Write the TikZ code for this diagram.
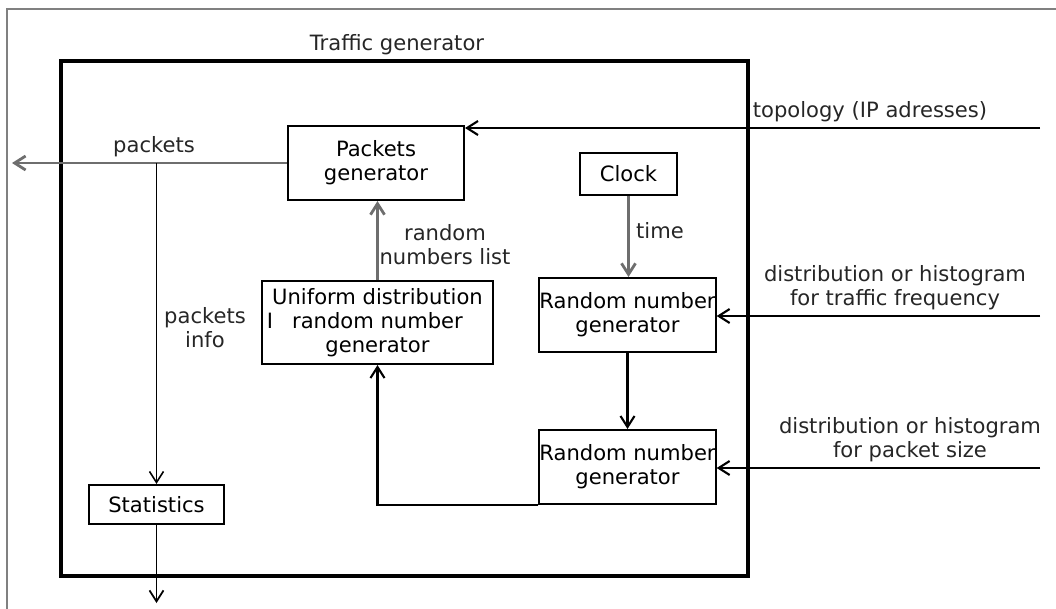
\documentclass[tikz,border=0pt]{standalone}
\usepackage{fontspec}
\setmainfont{DejaVu Sans}
\usetikzlibrary{arrows.meta}

\definecolor{flowgrey}{HTML}{6E6E6E}
\tikzset{
  block/.style={draw, line width=1.2pt, inner sep=0pt, align=center},
  link/.style={-{Straight Barb[length=2.2mm,width=2.8mm]}, line width=1.2pt},
  greylink/.style={link, draw=flowgrey, line width=1.6pt},
  lbl/.style={inner sep=0pt, align=center, text=black!85},
}

\begin{document}
\begin{tikzpicture}[x=0.02cm, y=-0.02cm, font=\fontsize{12}{13.6}\selectfont]
  \useasboundingbox (0,0) rectangle (1056,609);
  \draw[gray, line width=0.6pt] (7,615) -- (7,9) -- (1062,9);

  % traffic generator
  \draw[line width=1.9pt] (61,61) rectangle (748,576);
  \node[lbl] (title) at (397,45) {Traffic generator};

  \node[block, minimum width=3.52cm, minimum height=1.48cm] (pgen) at (376,163) {Packets\\generator};
  \node[block, minimum width=1.94cm, minimum height=0.84cm] (clock) at (628.5,174) {Clock};
  \node[block, minimum width=4.62cm, minimum height=1.66cm] (unif) at (377.5,322.5)
    {Uniform distribution\\\llap{I\hspace{0.9em}}random number\\generator};
  \node[block, minimum width=3.5cm, minimum height=1.48cm] (rng1) at (627.5,315) {Random number\\generator};
  \node[block, minimum width=3.5cm, minimum height=1.48cm] (rng2) at (627.5,467) {Random number\\generator};
  \node[block, minimum width=2.7cm, minimum height=0.78cm] (stats) at (156.5,504.5) {Statistics};

  % inputs from the right
  \coordinate (topo) at (1040,128);
  \coordinate (freq) at (1040,316);
  \coordinate (size) at (1040,468);
  \draw[link] (topo) -- (topo -| pgen.east);
  \draw[link] (freq) -- (freq -| rng1.east);
  \draw[link] (size) -- (size -| rng2.east);
  \node[lbl] (topolbl) at (870,112) {topology (IP adresses)};
  \node[lbl] (freqlbl) at (895,288) {distribution or histogram\\for traffic frequency};
  \node[lbl] (sizelbl) at (910,440) {distribution or histogram\\for packet size};

  % outputs
  \coordinate (out) at (12,163);
  \coordinate (tap) at (156.5,163);
  \coordinate (sout) at (156.5,603);
  \draw[greylink] (pgen.west) -- (out);
  \draw[link, line width=0.9pt] (tap) -- (stats.north);
  \draw[link, line width=1pt] (stats.south) -- (sout);
  \node[lbl] (pktlbl) at (154,147) {packets};
  \node[lbl] (infolbl) at (205,328) {packets\\info};

  % inner links
  \draw[greylink] (unif.north) -- (unif.north |- pgen.south);
  \draw[greylink] (clock.south) -- (clock.south |- rng1.north);
  \draw[link] (rng1) -- (rng2);
  \draw[link] (rng2.south west) -| (unif.south);
  \node[lbl] (listlbl) at (445,245) {random\\numbers list};
  \node[lbl] (timelbl) at (660,231) {time};
\end{tikzpicture}
\end{document}
